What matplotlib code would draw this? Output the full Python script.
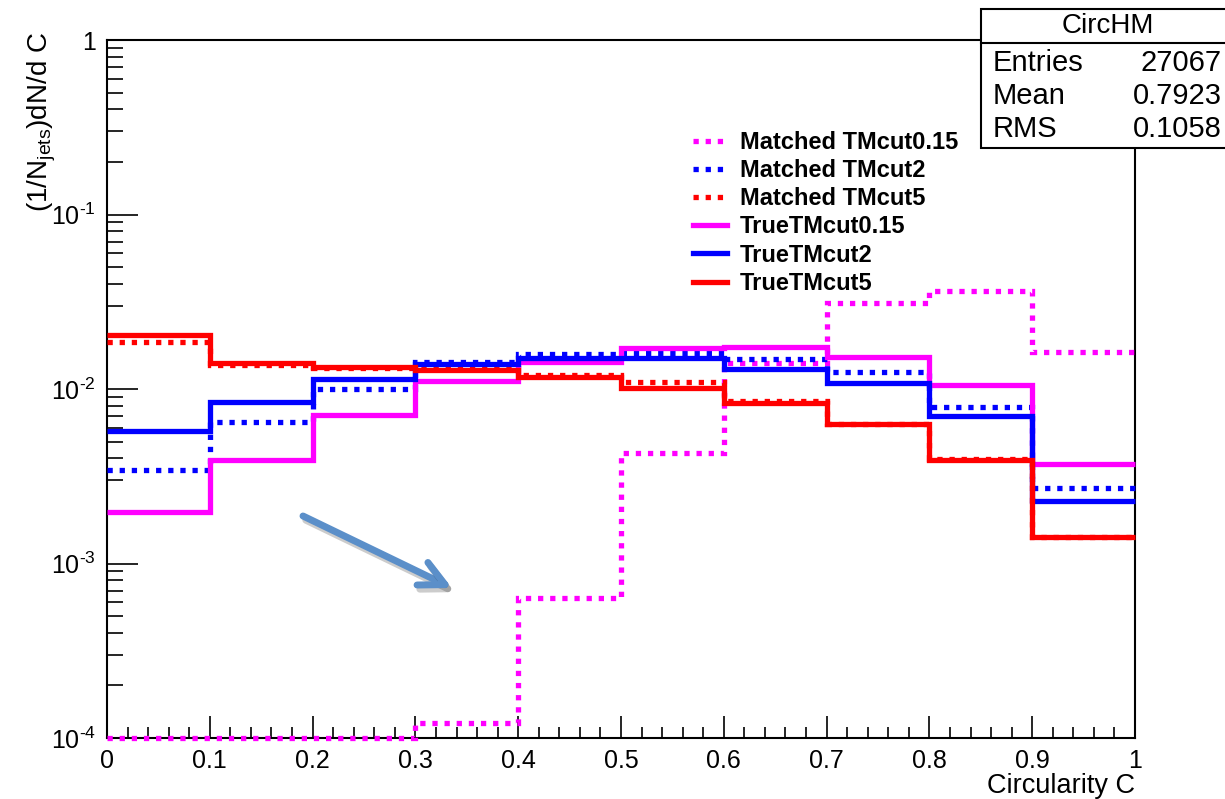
import numpy as np
import matplotlib
matplotlib.use("Agg")
import matplotlib.pyplot as plt
from matplotlib.patches import Rectangle
from matplotlib.lines import Line2D
import matplotlib.patheffects as pe

plt.rcParams['font.family'] = ['Liberation Sans', 'DejaVu Sans']
plt.rcParams['mathtext.fontset'] = 'custom'
plt.rcParams['mathtext.rm'] = 'Liberation Sans'
plt.rcParams['mathtext.it'] = 'Liberation Sans:italic'
plt.rcParams['mathtext.bf'] = 'Liberation Sans:bold'

# ---- data ----
edges = [0.0, 0.1, 0.2, 0.3, 0.4, 0.5, 0.6, 0.7, 0.8, 0.9, 1.0]
matched_015 = [0.0, 0.0, 0.0, 1.22e-4, 6.34e-4, 4.30e-3, 0.0141, 0.0310, 0.0364, 0.01636]
matched_2 = [0.00343, 0.00645, 0.0100, 0.0143, 0.01587, 0.01608, 0.0148, 0.01256, 0.00792, 0.0027]
matched_5 = [0.01852, 0.01373, 0.0132, 0.0132, 0.01203, 0.0110, 0.00857, 0.0063, 0.003955, 0.00142]
true_015 = [0.00198, 0.00392, 0.0071, 0.0111, 0.01434, 0.01725, 0.01734, 0.0152, 0.01054, 0.0037]
true_2 = [0.00575, 0.00846, 0.01136, 0.0139, 0.01505, 0.0151, 0.01297, 0.01087, 0.00703, 0.00228]
true_5 = [0.0204, 0.01404, 0.01342, 0.01285, 0.01176, 0.0101, 0.00828, 0.0063, 0.00392, 0.001424]
labels = ["Matched TMcut0.15", "Matched TMcut2", "Matched TMcut5",
          "TrueTMcut0.15", "TrueTMcut2", "TrueTMcut5"]
xticks = [0, 0.1, 0.2, 0.3, 0.4, 0.5, 0.6, 0.7, 0.8, 0.9, 1]
xticklabels = ["0", "0.1", "0.2", "0.3", "0.4", "0.5", "0.6", "0.7", "0.8", "0.9", "1"]
yticks = [1e-4, 1e-3, 1e-2, 1e-1, 1]
yticklabels = [r"10$^{\text{-4}}$", r"10$^{\text{-3}}$", r"10$^{\text{-2}}$", r"10$^{\text{-1}}$", "1"]
stats_title = "CircHM"
stats_names = ["Entries", "Mean", "RMS"]
stats_values = ["27067", "0.7923", "0.1058"]

W, H = 1225, 799
fig = plt.figure(figsize=(W / 100, H / 100), dpi=100)
ax = fig.add_axes([107 / W, 1 - 738 / H, (1135 - 107) / W, (738 - 40) / H])

ymin, ymax = 1e-4, 1.0
ax.set_yscale('log')
ax.set_xlim(0, 1)
ax.set_ylim(ymin, ymax)

series = [matched_015, matched_2, matched_5, true_015, true_2, true_5]
colors = ['#ff00ff', '#0000ff', '#ff0000', '#ff00ff', '#0000ff', '#ff0000']
dotted = (0, (1, 1.3))
styles = [dotted, dotted, dotted, '-', '-', '-']
lw = 3.8
for vals, c, ls in zip(series, colors, styles):
    v = np.asarray(vals, dtype=float)
    v = np.where(v > 0, v, ymin)
    ax.stairs(v, edges, baseline=None, color=c, linestyle=ls, linewidth=lw,
              clip_on=False, zorder=3)

# ticks
ax.set_xticks(xticks)
ax.set_xticklabels(xticklabels)
ax.set_xticks(np.arange(0, 1.0001, 0.02), minor=True)
ax.set_yticks(yticks)
ax.set_yticklabels(yticklabels)
minor_y = [m * 10.0 ** e for e in range(-4, 0) for m in range(2, 10)]
ax.set_yticks(minor_y, minor=True)
ax.set_yticklabels([], minor=True)
ax.tick_params(axis='both', which='both', direction='in', top=False, right=False,
               width=1.2, labelsize=18)
ax.tick_params(axis='x', which='major', length=16, pad=8)
ax.tick_params(axis='x', which='minor', length=8)
ax.tick_params(axis='y', which='major', length=22, pad=8)
ax.tick_params(axis='y', which='minor', length=11.5)
for s in ax.spines.values():
    s.set_linewidth(1.5)

ax.set_xlabel("Circularity C", fontsize=19.5, loc='right', labelpad=0)
fig.text(42 / W, 1 - 32 / H, r"(1/N$_{\mathrm{jets}}$)dN/d C", fontsize=20,
         rotation=90, ha='center', va='top')

# legend
handles = [Line2D([0], [0], color=c, linestyle=ls, linewidth=lw)
           for c, ls in zip(colors, styles)]
leg = ax.legend(handles, labels, loc='upper left', bbox_to_anchor=(574 / 1028, 1 - 79 / 698),
                frameon=False, prop={'weight': 'bold', 'size': 17},
                handlelength=1.45, handletextpad=0.55, labelspacing=0.22, borderpad=0)

# arrow
ax.annotate('', xy=(452, H - 588), xytext=(303, H - 516), xycoords='figure pixels',
            textcoords='figure pixels',
            arrowprops=dict(arrowstyle='->,head_length=1.8,head_width=0.9', lw=5,
                            color='#5b8fc9', shrinkA=0, shrinkB=0,
                            path_effects=[pe.SimpleLineShadow(offset=(2, -3), alpha=0.2), pe.Normal()]))

# stats box
bx0, by_top, by_bot, bx1 = 981, 9, 148, 1240
fig.add_artist(Rectangle((bx0 / W, 1 - by_bot / H), (bx1 - bx0) / W, (by_bot - by_top) / H,
                         transform=fig.transFigure, facecolor='white', edgecolor='black',
                         linewidth=1.5, zorder=10))
fig.add_artist(Line2D([bx0 / W, bx1 / W], [1 - 43 / H, 1 - 43 / H], transform=fig.transFigure,
                      color='black', linewidth=1.5, zorder=11))
fig.text(1108 / W, 1 - 26 / H, stats_title, ha='center', va='center', fontsize=20, zorder=12)
for i, (n, v) in enumerate(zip(stats_names, stats_values)):
    yy = 1 - (63 + 33 * i) / H
    fig.text(993 / W, yy, n, ha='left', va='center', fontsize=21, zorder=12)
    fig.text(1222 / W, yy, v, ha='right', va='center', fontsize=21, zorder=12)

fig.savefig("out.png", dpi=100)
